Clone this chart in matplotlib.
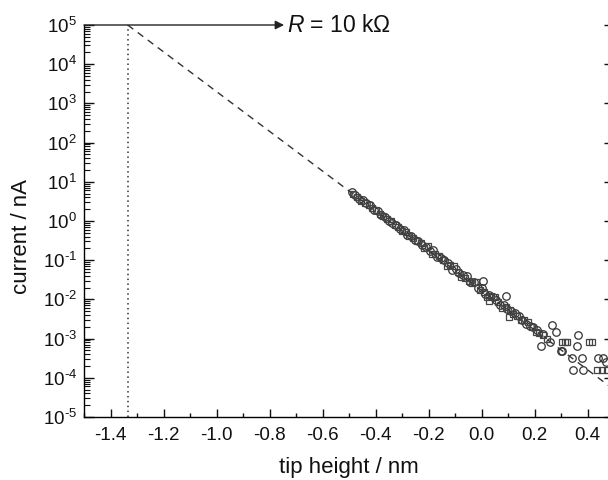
import matplotlib
matplotlib.use("Agg")
import matplotlib.pyplot as plt
from matplotlib.ticker import LogLocator, MultipleLocator, FixedLocator, FixedFormatter

plt.rcParams['font.family'] = ['Liberation Sans', 'DejaVu Sans']
plt.rcParams['mathtext.fontset'] = 'custom'
plt.rcParams['mathtext.rm'] = 'Liberation Sans'
plt.rcParams['mathtext.it'] = 'Liberation Sans:italic'
plt.rcParams['axes.unicode_minus'] = False

# ---- data (tip height in nm, current in nA) ----
circ_x = [-0.490, -0.476, -0.462, -0.448, -0.434, -0.420, -0.406, -0.392, -0.378, -0.364,
          -0.350, -0.336, -0.322, -0.308, -0.294, -0.280, -0.266, -0.252, -0.238, -0.224,
          -0.210, -0.196, -0.182, -0.168, -0.154, -0.140, -0.126, -0.112, -0.098, -0.084,
          -0.070, -0.056, -0.042, -0.028, -0.014, 0.000, 0.007, 0.014, 0.028, 0.042,
          0.056, 0.070, 0.084, 0.092, 0.098, 0.112, 0.126, 0.140, 0.154, 0.168,
          0.182, 0.196, 0.210, 0.223, 0.233, 0.258, 0.265, 0.283, 0.299, 0.305,
          0.340, 0.344, 0.359, 0.365, 0.378, 0.382, 0.438, 0.458, 0.470]
circ_i = [5.6, 4.6, 3.6, 3.4, 2.8, 2.5, 1.95, 1.75, 1.45, 1.30,
          1.00, 0.88, 0.80, 0.64, 0.58, 0.45, 0.41, 0.33, 0.30, 0.24,
          0.22, 0.17, 0.18, 0.12, 0.115, 0.10, 0.085, 0.056, 0.060, 0.046,
          0.043, 0.040, 0.028, 0.027, 0.020, 0.019, 0.030, 0.014, 0.013, 0.0118,
          0.0098, 0.0070, 0.0072, 0.0123, 0.0056, 0.0052, 0.0046, 0.0037, 0.0030, 0.0024,
          0.0021, 0.0020, 0.0017, 0.00065, 0.0013, 0.00081, 0.0022, 0.0015, 0.00048, 0.00048,
          0.00032, 0.00016, 0.00065, 0.0012, 0.00032, 0.00016, 0.00032, 0.00032, 0.00025]

sq_x = [-0.485, -0.470, -0.455, -0.440, -0.426, -0.412, -0.398, -0.384, -0.370, -0.356,
        -0.342, -0.328, -0.314, -0.300, -0.286, -0.272, -0.258, -0.244, -0.230, -0.216,
        -0.202, -0.188, -0.174, -0.160, -0.146, -0.132, -0.118, -0.104, -0.090, -0.076,
        -0.062, -0.048, -0.034, -0.020, -0.006, 0.008, 0.022, 0.030, 0.036, 0.050,
        0.064, 0.078, 0.092, 0.105, 0.106, 0.120, 0.134, 0.148, 0.162, 0.176,
        0.190, 0.204, 0.218, 0.232, 0.246, 0.303, 0.316, 0.321, 0.406, 0.418,
        0.435, 0.453, 0.472]
sq_i = [5.0, 4.2, 3.3, 2.9, 2.6, 2.1, 1.9, 1.5, 1.38, 1.1,
        0.98, 0.78, 0.70, 0.56, 0.52, 0.42, 0.37, 0.30, 0.27, 0.21,
        0.23, 0.14, 0.14, 0.13, 0.10, 0.070, 0.074, 0.072, 0.050, 0.038,
        0.036, 0.029, 0.026, 0.027, 0.017, 0.015, 0.0115, 0.0091, 0.0125, 0.0115,
        0.0088, 0.0062, 0.0064, 0.0035, 0.0055, 0.0042, 0.0038, 0.0029, 0.0030, 0.0027,
        0.0020, 0.0015, 0.0014, 0.0012, 0.0010, 0.00081, 0.00081, 0.00081, 0.00081, 0.00081,
        0.00016, 0.00016, 0.00016]

fit_x = [-1.335, 0.50]
fit_i = [1.0e5, 5.0e-5]

contact_x = -1.335
contact_i = 1.0e5
arrow_end_x = -0.745
label_R = "$R$ = 10 k\u03a9"

xticks = [-1.4, -1.2, -1.0, -0.8, -0.6, -0.4, -0.2, 0.0, 0.2, 0.4]
xticklabels = ["-1.4", "-1.2", "-1.0", "-0.8", "-0.6", "-0.4", "-0.2", "0.0", "0.2", "0.4"]
yticks = [1e-5, 1e-4, 1e-3, 1e-2, 1e-1, 1e0, 1e1, 1e2, 1e3, 1e4, 1e5]
yexps = ["-5", "-4", "-3", "-2", "-1", "0", "1", "2", "3", "4", "5"]

# ---- figure ----
fig = plt.figure(figsize=(6.08, 4.80), dpi=100)
ax = fig.add_axes([84/608, 63/480, 530/608, 392/480])

ax.set_yscale('log')
ax.set_xlim(-1.5, 0.5)
ax.set_ylim(1e-5, 1e5)

ax.plot([contact_x, contact_x], [1e-5, 1e5], linestyle=(0, (1, 2.2)), color='#333333', lw=1.1, zorder=1)
ax.plot(fit_x, fit_i, linestyle=(0, (5, 4)), color='#333333', lw=1.0, zorder=2)

ax.plot(circ_x, circ_i, linestyle='none', marker='o', markersize=5.4,
        markerfacecolor='none', markeredgecolor='#333333', markeredgewidth=0.9, zorder=3)
ax.plot(sq_x, sq_i, linestyle='none', marker='s', markersize=4.8,
        markerfacecolor='none', markeredgecolor='#444444', markeredgewidth=0.9, zorder=3)

ax.annotate('', xy=(arrow_end_x, contact_i), xytext=(-1.5, contact_i),
            arrowprops=dict(arrowstyle='-|>', color='#222222', lw=1.0,
                            mutation_scale=13, shrinkA=0, shrinkB=0),
            annotation_clip=False)
ax.text(arrow_end_x + 0.012, contact_i, label_R, fontsize=16.5, va='center', ha='left',
        color='#111111')

ax.spines['top'].set_visible(False)
for s in ('left', 'bottom', 'right'):
    ax.spines[s].set_linewidth(1.0)

ax.xaxis.set_major_locator(FixedLocator(xticks))
ax.xaxis.set_major_formatter(FixedFormatter(xticklabels))
ax.xaxis.set_minor_locator(MultipleLocator(0.1))
ax.yaxis.set_major_locator(FixedLocator(yticks))
ax.yaxis.set_major_formatter(FixedFormatter([r"$10^{\text{%s}}$" % e for e in yexps]))
ax.yaxis.set_minor_locator(LogLocator(base=10, subs=[2, 3, 4, 5, 6, 7, 8, 9], numticks=20))

ax.tick_params(axis='both', which='both', direction='in', colors='#111111')
ax.tick_params(axis='x', which='major', length=6, width=1.0, labelsize=13.5, pad=7, top=False)
ax.tick_params(axis='x', which='minor', length=3, width=1.0, top=False)
ax.tick_params(axis='y', which='major', length=7, width=1.0, labelsize=13.5, pad=5, right=True)
ax.tick_params(axis='y', which='minor', length=4, width=0.8, right=False)

ax.set_xlabel('tip height / nm', fontsize=16, color='#111111')
ax.set_ylabel('current / nA', fontsize=16, color='#111111')
ax.yaxis.set_label_coords(-0.098, 0.46)
ax.xaxis.set_label_coords(0.5, -0.103)

fig.savefig('out.png', dpi=100)
